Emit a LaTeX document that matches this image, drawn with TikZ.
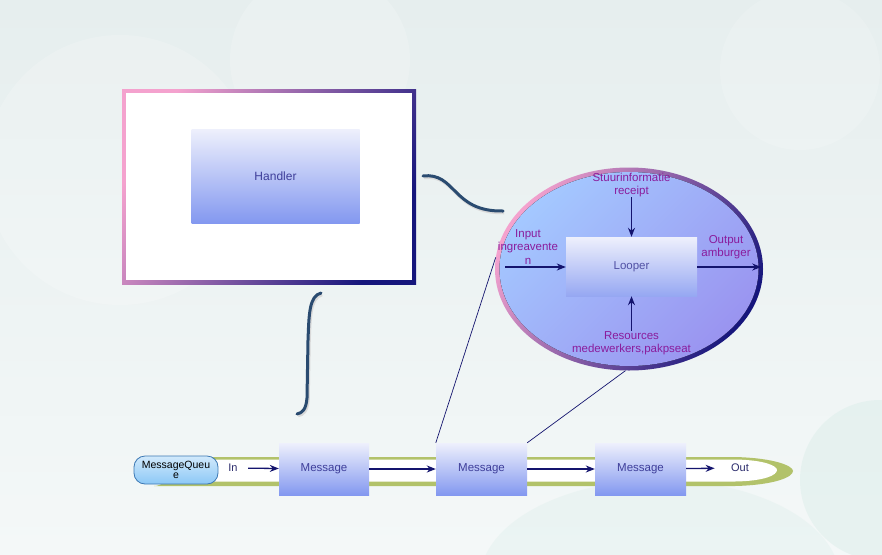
\documentclass[tikz,border=0pt]{standalone}
\usepackage{fontspec}
\setmainfont{Liberation Sans}
\usetikzlibrary{shapes.geometric,arrows.meta,positioning}
\definecolor{navyline}{HTML}{14146E}
\definecolor{labelpurple}{HTML}{8A1C9C}
\definecolor{boxtext}{HTML}{3E3E9A}
\definecolor{rimpink}{HTML}{F4A2CE}
\definecolor{rimnavy}{HTML}{16167C}
\definecolor{boxtop}{HTML}{EEF0FC}
\definecolor{boxbottom}{HTML}{8398F0}
\definecolor{zonetop}{HTML}{A4C8FF}
\definecolor{zonebottom}{HTML}{9A94F0}
\definecolor{curveblue}{HTML}{2A4B70}
\definecolor{bandgreen}{HTML}{B2C26A}
\definecolor{queueblue}{HTML}{8CC8F6}
\definecolor{queuerim}{HTML}{3C78B4}
\definecolor{skytop}{HTML}{E6EEEE}
\definecolor{skybottom}{HTML}{F4F8F8}
\definecolor{cloud}{HTML}{DCEEEA}

\begin{document}
\begin{tikzpicture}[x=1pt, y=-1pt, >={Stealth[length=9pt,width=7pt]},
    box/.style = {rectangle, top color=boxtop, bottom color=boxbottom, text=boxtext, inner sep=0pt, font=\fontsize{11.5}{13}\selectfont},
    lbl/.style = {text=labelpurple, align=center, inner sep=0pt, font=\fontsize{11.5}{13.5}\selectfont},
    rim/.style = {top color=rimpink, bottom color=rimnavy, shading angle=60},
    flow/.style = {->, draw=navyline, line width=1.3pt},
    wire/.style = {draw=curveblue, line width=3pt, line cap=round, preaction={draw=gray!30, line width=3.5pt, transform canvas={shift={(1pt,-1.5pt)}}}},
    thin/.style = {draw=navyline, line width=0.7pt}]
        \useasboundingbox (0,0) rectangle (882,554);
        \fill[top color=skytop, bottom color=skybottom] (0,0) rectangle (882,554);
        \fill[white, opacity=0.18] (120,170) circle (135);
        \fill[white, opacity=0.18] (320,60) circle (90);
        \fill[white, opacity=0.15] (800,70) circle (80);
        \fill[cloud, opacity=0.5] (880,480) circle (80);
        \fill[cloud, opacity=0.35] (660,580) ellipse [x radius=180pt, y radius=100pt];

        \node[rectangle, rim, minimum width=294pt, minimum height=195pt] (frame) at (269,186.5) {};
        \fill[white] (126,93) rectangle (412,280);
        \node[box, minimum width=168pt, minimum height=94pt, font=\fontsize{12}{14}\selectfont] (handler) at (275.5,176) {Handler};

        \node[ellipse, rim, minimum width=268pt, minimum height=203pt] (zone) at (629,269) {};
        \fill[top color=zonetop, bottom color=zonebottom, shading angle=45] (zone.center) ellipse [x radius=129.5pt, y radius=97pt];
        \node[box, minimum width=131pt, minimum height=59pt, bottom color=boxbottom!85!white, text=boxtext!90!white] (looper) at (631.5,266.5) {Looper};
        \node[lbl] (stuur) at (631.5,185) {Stuurinformatie\\receipt};
        \node[lbl] (input) at (528,247) {Input\\ingreavente\\n};
        \node[lbl] (output) at (726,247) {Output\\amburger};
        \node[lbl] (resources) at (631.5,343) {Resources\\medewerkers,pakpseat};
        \coordinate (inlead) at (505,267);

        \draw[flow] (stuur) -- (looper);
        \draw[flow] (resources) -- (looper);
        \draw[flow] (inlead) -- (inlead -| looper.west);
        \draw[flow] (looper.east |- inlead) -- ([xshift=-2pt]inlead -| zone.east);

        \fill[bandgreen] (154,457) -- (735,457) .. controls (775,458) and (793,466) .. (793,471) .. controls (793,477) and (775,485) .. (735,486) -- (154,486) arc[start angle=90, end angle=270, radius=-14.5pt] -- cycle;
        \fill[white] (156,459.5) -- (735,459.5) .. controls (765,460) and (777,466) .. (777,470) .. controls (777,475) and (765,481) .. (735,481.5) -- (156,481.5) arc[start angle=90, end angle=270, radius=-11pt] -- cycle;
        \node[rectangle, rounded corners=11pt, minimum width=84pt, minimum height=28pt, top color=queueblue!40!white, bottom color=queueblue, draw=queuerim, line width=0.8pt, align=center, inner sep=0pt, font=\fontsize{10.5}{10}\selectfont] (queue) at (176,470) {MessageQueu\\e};
        \node[font=\fontsize{11}{13}\selectfont, text=boxtext!70!black] (in) at (233,468) {In};
        \node[box, minimum width=90pt, minimum height=52pt] (msg1) at (324,469) {Message};
        \node[box, minimum width=91pt, minimum height=52pt] (msg2) at (481.5,469) {Message};
        \node[box, minimum width=91pt, minimum height=52pt] (msg3) at (640.5,469) {Message};
        \node[font=\fontsize{11}{13}\selectfont, text=boxtext!70!black] (out) at (740,468) {Out};

        \draw[flow, shorten <=7pt] (in) -- (msg1);
        \draw[flow] (msg1) -- (msg2);
        \draw[flow] (msg2) -- (msg3);
        \draw[flow, shorten >=13pt] (msg3) -- (out);

        \draw[thin] (msg2.north west) -- (zone.175);
        \draw[thin] (msg2.north east) -- (zone.268);

        \coordinate (hwire) at (423,176);
        \coordinate (zwire) at (503,211);
        \coordinate (hq) at (321,293);
        \coordinate (qh) at (297,414);
        \draw[wire] (hwire) .. controls (456,172) and (452,212) .. (zwire);
        \draw[wire] (hq) .. controls (309,296) and (309,315) .. (308,340) -- (307,398) .. controls (306,410) and (302,413) .. (qh);
    \end{tikzpicture}
\end{document}
